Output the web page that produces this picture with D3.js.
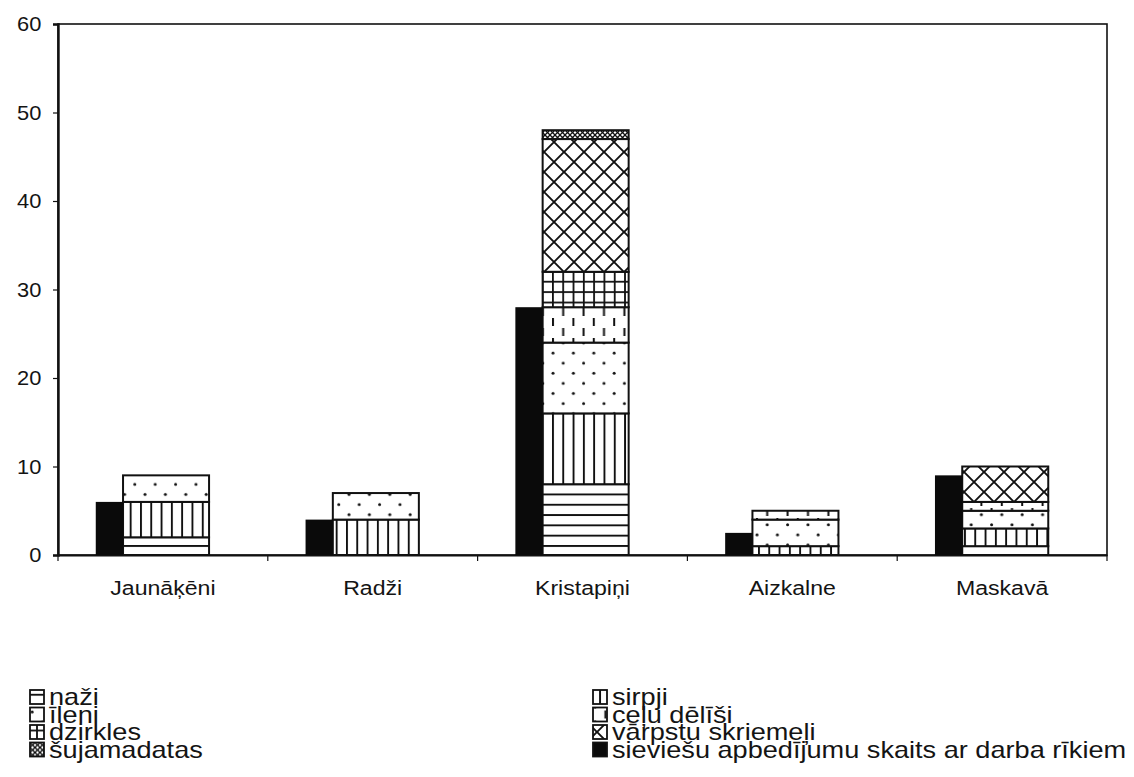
<!DOCTYPE html>
<html>
<head>
<meta charset="utf-8">
<script src="https://cdn.jsdelivr.net/npm/d3@7"></script>
<style>
  body { margin: 0; background: #fff; }
  text { font-family: "Liberation Sans", Arial, sans-serif; fill: #141414; }
</style>
</head>
<body>
<svg id="chart" width="1134" height="777"></svg>
<script>
// Sites (x categories)
const sites = ["Jaunāķēni", "Radži", "Kristapiņi", "Aizkalne", "Maskavā"];

// Number of tools of each kind per site (stacked, bottom to top)
const nazi        = [2, 0, 8, 0, 1];
const sirpji      = [4, 4, 8, 1, 2];
const ileni       = [3, 3, 8, 3, 2];
const celuDelisi  = [0, 0, 4, 1, 1];
const dzirkles    = [0, 0, 4, 0, 0];
const varpstuSkr  = [0, 0, 15, 0, 4];
const sujamadatas = [0, 0, 1, 0, 0];

// Female burials containing tools (separate solid bar)
const burials = [6, 4, 28, 2.5, 9];

const toolNames = ["naži", "sirpji", "īleni", "ceļu dēlīši", "dzirkles", "vārpstu skriemeļi", "šujamadatas"];
const burialName = "sieviešu apbedījumu skaits ar darba rīkiem";
const yTicks = [0, 10, 20, 30, 40, 50, 60];

const toolSeries = [nazi, sirpji, ileni, celuDelisi, dzirkles, varpstuSkr, sujamadatas];
const patternIds = ["p-nazi", "p-sirpji", "p-ileni", "p-celu", "p-dzirkles", "p-varpstu", "p-suj"];

const svg = d3.select("#chart");
const plot = { left: 58, right: 1107, top: 24, bottom: 555 };

const x = d3.scaleBand().domain(sites).range([plot.left, plot.right]).padding(0);
const y = d3.scaleLinear().domain([0, 60]).range([plot.bottom, plot.top]);

// ---------- fill patterns ----------
const defs = svg.append("defs");
function pattern(id, w, h, x0, y0, draw) {
  const p = defs.append("pattern")
    .attr("id", id).attr("patternUnits", "userSpaceOnUse")
    .attr("width", w).attr("height", h).attr("x", x0).attr("y", y0);
  p.append("rect").attr("width", w).attr("height", h).attr("fill", "#fff");
  draw(p, w, h);
}
// horizontal lines
pattern("p-nazi", 10, 10.3, 0, 545, (p, w) => {
  p.append("rect").attr("x", 0).attr("y", 0).attr("width", w).attr("height", 1.9).attr("fill", "#111");
});
// vertical lines
pattern("p-sirpji", 10.3, 10, 552, 0, (p, w, h) => {
  p.append("rect").attr("x", 0).attr("y", 0).attr("width", 1.9).attr("height", h).attr("fill", "#111");
});
// staggered dots
pattern("p-ileni", 20.4, 20.2, 548, 348, p => {
  p.append("circle").attr("cx", 5).attr("cy", 5).attr("r", 1.5).attr("fill", "#111");
  p.append("circle").attr("cx", 15.2).attr("cy", 15.1).attr("r", 1.5).attr("fill", "#111");
});
// staggered vertical dashes
pattern("p-celu", 20.4, 20, 552, 318, p => {
  p.append("rect").attr("x", 0).attr("y", 0).attr("width", 2).attr("height", 8).attr("fill", "#111");
  p.append("rect").attr("x", 10.2).attr("y", 10).attr("width", 2).attr("height", 8).attr("fill", "#111");
});
// grid
pattern("p-dzirkles", 10.3, 10.4, 552, 0, (p, w, h) => {
  p.append("rect").attr("x", 0).attr("y", 0).attr("width", w).attr("height", 1.8).attr("fill", "#111");
  p.append("rect").attr("x", 0).attr("y", 0).attr("width", 1.8).attr("height", h).attr("fill", "#111");
});
// diagonal cross-hatch
pattern("p-varpstu", 20, 20, 544, 272, p => {
  p.append("path").attr("d", "M-2,-2L22,22M22,-2L-2,22")
    .attr("stroke", "#111").attr("stroke-width", 1.9).attr("fill", "none");
});
// dense cross-hatch
pattern("p-suj", 5, 5, 0, 0, p => {
  p.append("path").attr("d", "M-1,-1L6,6M6,-1L-1,6")
    .attr("stroke", "#111").attr("stroke-width", 1.3).attr("fill", "none");
});

// ---------- frame & axes ----------
svg.append("rect")
  .attr("x", plot.left).attr("y", plot.top)
  .attr("width", plot.right - plot.left).attr("height", plot.bottom - plot.top)
  .attr("fill", "none").attr("stroke", "#111").attr("stroke-width", 1.6);

const yAxis = svg.append("g")
  .attr("transform", `translate(${plot.left},0)`)
  .call(d3.axisLeft(y).tickValues(yTicks).tickSize(5).tickPadding(11).tickFormat(d3.format("d")));
yAxis.select(".domain").attr("stroke", "#111").attr("stroke-width", 2.4);
yAxis.selectAll(".tick line").attr("stroke", "#111").attr("stroke-width", 1.2);
yAxis.selectAll(".tick text")
  .attr("font-size", 21).attr("font-family", null).attr("fill", "#141414")
  .attr("transform", "scale(1.04,1)");

// category labels
const xAxis = svg.append("g")
  .attr("transform", `translate(0,${plot.bottom})`)
  .call(d3.axisBottom(x).tickSize(0));
xAxis.select(".domain").attr("stroke", "#111").attr("stroke-width", 2);
xAxis.selectAll(".tick text")
  .attr("font-size", 21).attr("font-family", null).attr("fill", "#141414")
  .attr("dy", null).attr("y", 40)
  .attr("transform", "scale(1.1,1)");

// boundary ticks between categories
const boundaries = sites.map(s => x(s)).concat([x.range()[1]]);
svg.append("g").selectAll("line").data(boundaries).join("line")
  .attr("x1", d => d).attr("x2", d => d)
  .attr("y1", plot.bottom).attr("y2", plot.bottom + 6)
  .attr("stroke", "#111").attr("stroke-width", 1.2);

// ---------- bars ----------
const bw = x.bandwidth();
const burialOffset = bw * 0.18, burialWidth = bw * 0.13;
const stackOffset = burialOffset + burialWidth, stackWidth = bw * 0.41;

// table for the stack layout
const table = sites.map((s, i) => {
  const row = { site: s };
  toolNames.forEach((n, k) => { row[n] = toolSeries[k][i]; });
  return row;
});
const stacked = d3.stack().keys(toolNames)(table);

const bars = svg.append("g");
stacked.forEach((layer, k) => {
  bars.append("g").selectAll("rect")
    .data(layer.filter(d => d[1] > d[0]))
    .join("rect")
    .attr("x", d => x(d.data.site) + stackOffset)
    .attr("width", stackWidth)
    .attr("y", d => y(d[1]))
    .attr("height", d => y(d[0]) - y(d[1]))
    .attr("fill", `url(#${patternIds[k]})`)
    .attr("stroke", "#111").attr("stroke-width", 2);
});

bars.append("g").selectAll("rect")
  .data(sites.map((s, i) => ({ site: s, v: burials[i] })))
  .join("rect")
  .attr("x", d => x(d.site) + burialOffset)
  .attr("width", burialWidth)
  .attr("y", d => y(d.v))
  .attr("height", d => y(0) - y(d.v))
  .attr("fill", "#0a0a0a");

// ---------- legend ----------
const legendItems = toolNames.map((n, k) => ({ name: n, fill: `url(#${patternIds[k]})` }))
  .concat([{ name: burialName, fill: "#0a0a0a" }]);
const colX = [30, 593];
const rowBase = [705, 722.5, 740, 757.5];

const leg = svg.append("g").selectAll("g").data(legendItems).join("g")
  .attr("transform", (d, i) => `translate(${colX[i % 2]},${rowBase[Math.floor(i / 2)]})`);
leg.append("rect")
  .attr("x", 0).attr("y", -15).attr("width", 14).attr("height", 14)
  .attr("fill", d => d.fill).attr("stroke", "#111").attr("stroke-width", 1.8);
leg.append("text")
  .attr("transform", "translate(19,0) scale(1.18,1)")
  .attr("font-size", 23)
  .text(d => d.name);
</script>
</body>
</html>
